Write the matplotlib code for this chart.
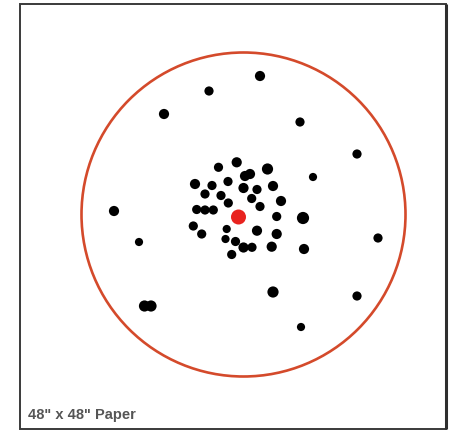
import matplotlib
matplotlib.use("Agg")
import matplotlib.pyplot as plt
from matplotlib.patches import Circle, Rectangle

# Shot positions on the paper (image pixel coordinates, y downward)
outer_x = [260, 209, 164, 300, 357, 313, 114, 139, 378, 303, 304, 273, 357, 144.5, 151, 301]
outer_y = [77, 92, 115, 123, 155, 178, 212, 243, 239, 219, 250, 293, 297, 307, 307, 328]
outer_d = [9, 8, 9, 8, 8, 7, 9, 7, 8, 11, 9, 10, 8, 10, 10, 7]

cluster_x = [236.7, 218.5, 267.5, 250, 245, 195, 212, 228, 243.5, 257, 273, 205, 221,
             251.7, 281, 228.3, 260, 196.7, 205, 213.3, 276.7, 193.3, 201.7, 226.7, 257,
             276.7, 225.5, 235.5, 243.5, 252, 271.7, 231.7]
cluster_y = [163.3, 168.3, 170, 175, 177, 185, 186.5, 182.5, 189, 190.5, 187, 195, 196.5,
             199.5, 202, 204, 207.5, 210.5, 211, 211, 217.5, 227, 235, 230, 231.7,
             235, 240, 242.5, 248.5, 248.3, 247.7, 255.5]
cluster_d = [9, 8, 10, 9, 9, 9, 8, 8, 9, 8, 9, 8, 8,
             8, 9, 8, 8, 8, 8, 8, 8, 8, 8, 7, 9,
             9, 7, 8, 9, 8, 9, 8]

ring_center = (243.5, 215.5)
ring_radius = 162
aim_point = (238.5, 218)
label = '48" x 48" Paper'

W, H = 453, 431
fig = plt.figure(figsize=(W / 100, H / 100), dpi=100)
ax = fig.add_axes([0, 0, 1, 1])
ax.set_xlim(0, W)
ax.set_ylim(H, 0)
ax.axis("off")

# paper frame
ax.add_patch(Rectangle((20, 5), 426, 425, facecolor="white", edgecolor="#3a3a3a", lw=1.4, zorder=1))
ax.plot([445.5, 445.5], [5, 430], color="#2e2e2e", lw=2.2, zorder=2, solid_capstyle="butt")

# ring
ax.add_patch(Circle(ring_center, ring_radius, fill=False, edgecolor="#d44a2b", lw=1.9, zorder=3))

def s_from_px(d):
    return [((v + 1.2) * 0.72) ** 2 for v in d]

ax.scatter(outer_x, outer_y, s=s_from_px(outer_d), color="black", edgecolors="none", zorder=4)
ax.scatter(cluster_x, cluster_y, s=s_from_px(cluster_d), color="black", edgecolors="none", zorder=4)
ax.scatter([aim_point[0]], [aim_point[1]], s=(15 * 0.72) ** 2, color="#e8231f", edgecolors="none", zorder=5)

ax.text(28, 419, label, fontsize=10.5, color="#555555", family="Liberation Sans",
        fontweight="bold", ha="left", va="baseline", zorder=6)

fig.savefig("out.png", dpi=100)
